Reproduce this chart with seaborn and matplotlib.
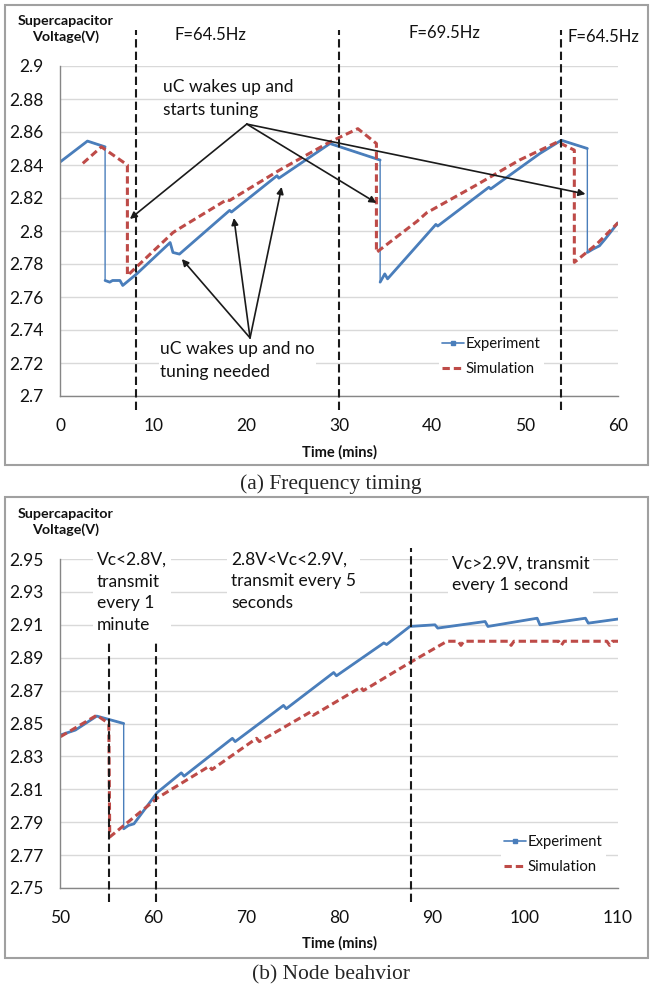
import numpy as np
import matplotlib.pyplot as plt
import seaborn as sns
from matplotlib.lines import Line2D
from matplotlib.patches import Rectangle

# ---- panel (a): frequency timing ----
exp_a_t = [0, 2.9, 4.8, 4.8, 5.3, 5.6, 6.4, 6.7, 8.2, 11.8, 12.1, 12.8, 18.2, 18.4,
           23.3, 23.5, 29.0, 34.4, 34.4, 34.9, 35.2, 40.4, 40.6, 46.1, 46.3, 51.6,
           53.9, 56.7, 56.7, 57.3, 58.0, 58.6, 60.0]
exp_a_v = [2.842, 2.8545, 2.851, 2.770, 2.769, 2.770, 2.770, 2.767, 2.774, 2.793, 2.787,
           2.786, 2.8125, 2.8115, 2.8335, 2.832, 2.853, 2.843, 2.769, 2.774, 2.771, 2.804,
           2.803, 2.8265, 2.8255, 2.847, 2.855, 2.850, 2.787, 2.789, 2.791, 2.795, 2.805]
sim_a_t = [2.4, 4.4, 7.2, 7.2, 12.1, 12.5, 17.9, 18.2, 23.6, 29.0, 32.0, 34.0, 34.0,
           38.4, 39.4, 44.8, 49.4, 53.5, 55.3, 55.3, 57.7, 60.0]
sim_a_v = [2.841, 2.851, 2.840, 2.773, 2.799, 2.8005, 2.819, 2.8185, 2.837, 2.854, 2.862,
           2.853, 2.787, 2.806, 2.811, 2.828, 2.843, 2.854, 2.849, 2.781, 2.792, 2.805]
vlines_a = [8.1, 30.0, 53.9]
yticks_a = [2.7, 2.72, 2.74, 2.76, 2.78, 2.8, 2.82, 2.84, 2.86, 2.88, 2.9]
ylabels_a = ['2.7', '2.72', '2.74', '2.76', '2.78', '2.8', '2.82', '2.84', '2.86', '2.88', '2.9']
xticks_a = [0, 10, 20, 30, 40, 50, 60]
freq_labels = ['F=64.5Hz', 'F=69.5Hz', 'F=64.5Hz']

# ---- panel (b): node behaviour ----
exp_b_t = [50, 51.6, 53.9, 56.8, 56.8, 57.3, 57.9, 60.4, 63.0, 63.3, 68.5, 68.8, 74.0,
           74.3, 79.4, 79.7, 84.8, 85.1, 87.6, 90.3, 90.6, 95.7, 96.0, 101.3, 101.6,
           106.5, 106.8, 110]
exp_b_v = [2.843, 2.846, 2.8545, 2.850, 2.786, 2.788, 2.789, 2.808, 2.820, 2.818, 2.841,
           2.839, 2.861, 2.859, 2.881, 2.879, 2.899, 2.898, 2.909, 2.910, 2.908, 2.912,
           2.909, 2.914, 2.910, 2.914, 2.911, 2.9135]
sim_b_t = [50, 53.9, 55.2, 55.3, 60.5, 66.0, 66.3, 71.1, 71.4, 76.9, 77.2, 82.3, 82.6,
           87.6, 91.6, 92.8, 93.1, 93.4, 98.2, 98.5, 98.8, 103.6, 103.9, 104.2, 108.8,
           109.1, 109.4, 110]
sim_b_v = [2.842, 2.855, 2.850, 2.781, 2.805, 2.824, 2.822, 2.841, 2.839, 2.857, 2.855,
           2.872, 2.870, 2.887, 2.900, 2.900, 2.8975, 2.900, 2.900, 2.8975, 2.900, 2.900,
           2.8975, 2.900, 2.900, 2.8975, 2.900, 2.900]
vlines_b = [55.2, 60.3, 87.7]
yticks_b = [2.75, 2.77, 2.79, 2.81, 2.83, 2.85, 2.87, 2.89, 2.91, 2.93, 2.95]
ylabels_b = ['2.75', '2.77', '2.79', '2.81', '2.83', '2.85', '2.87', '2.89', '2.91', '2.93', '2.95']
xticks_b = [50, 60, 70, 80, 90, 100, 110]

BLUE = '#4a7ebb'
RED = '#be4b48'
GRID = '#d9d9d9'
SPINE = '#868686'
FRAME = '#a0a0a0'
INK = '#111111'

sns.set_theme(style="whitegrid")
plt.rcParams['font.family'] = ['Lato', 'DejaVu Sans']

fig = plt.figure(figsize=(6.5, 9.9), dpi=100)
W, H = 650, 990
ax_a = fig.add_axes([60.5 / W, 1 - 396 / H, 557.5 / W, 330 / H])
ax_b = fig.add_axes([60.5 / W, 1 - 888 / H, 557.5 / W, 329 / H])


def draw_experiment(ax, t, v):
    t = np.asarray(t)
    v = np.asarray(v)
    # thin line everywhere (the vertical drops stay thin), thick on the ramps
    sns.lineplot(x=t, y=v, ax=ax, color=BLUE, linewidth=1, estimator=None, sort=False)
    cuts = np.where(np.diff(t) == 0)[0] + 1
    for tt, vv in zip(np.split(t, cuts), np.split(v, cuts)):
        sns.lineplot(x=tt, y=vv, ax=ax, color=BLUE, linewidth=2, estimator=None, sort=False)


def draw_simulation(ax, t, v):
    sns.lineplot(x=t, y=v, ax=ax, color=RED, linewidth=2.2, estimator=None, sort=False,
                 linestyle=(0, (2.4, 1.3)))


def style_axes(ax, xlim, xticks, ylim, yticks, ylabels):
    ax.set_xlim(xlim)
    ax.set_ylim(ylim)
    ax.set_xticks(xticks)
    ax.set_xticklabels([str(x) for x in xticks])
    ax.set_yticks(yticks)
    ax.set_yticklabels(ylabels)
    ax.grid(axis='x', visible=False)
    ax.grid(axis='y', color=GRID, linewidth=1)
    ax.set_facecolor('none')
    for s in ['top', 'right']:
        ax.spines[s].set_visible(False)
    for s in ['left', 'bottom']:
        ax.spines[s].set_color(SPINE)
        ax.spines[s].set_linewidth(1)
    ax.tick_params(axis='both', direction='out', length=5, width=1, color=SPINE,
                   labelsize=12.5, labelcolor=INK)
    ax.tick_params(axis='x', pad=11)
    ax.tick_params(axis='y', pad=7)
    ax.set_xlabel('')
    ax.set_ylabel('')


def legend(ax, anchor):
    handles = [Line2D([], [], color=BLUE, lw=1.2, marker='s', markersize=2.5),
               Line2D([], [], color=RED, lw=2.2, linestyle=(0, (2.4, 1.3)))]
    leg = ax.legend(handles, ['Experiment', 'Simulation'], loc='lower left',
                    bbox_to_anchor=anchor, frameon=True, facecolor='white',
                    edgecolor='none', framealpha=1, fontsize=10.7, handlelength=1.45,
                    handletextpad=0.1, labelspacing=0.75, borderpad=0.25,
                    borderaxespad=0.5)
    for txt in leg.get_texts():
        txt.set_color(INK)
    leg.set_zorder(5)


# ---- panel (a) ----
draw_experiment(ax_a, exp_a_t, exp_a_v)
draw_simulation(ax_a, sim_a_t, sim_a_v)
style_axes(ax_a, (0, 60), xticks_a, (2.7, 2.9), yticks_a, ylabels_a)
ax_a.vlines(vlines_a, 2.6915, 2.9218, colors='k', linestyles=(0, (4, 2)),
            linewidth=1.5, clip_on=False, zorder=4)
for x, y, s in zip([12.3, 37.4, 54.6], [2.9188, 2.920, 2.9176], freq_labels):
    ax_a.text(x, y, s, fontsize=12, ha='left', va='center', color=INK)

ax_a.text(11.0, 2.8803, 'uC wakes up and\nstarts tuning', fontsize=12.5, ha='left',
          va='center', linespacing=1.5, color=INK)
for tx, ty in [(7.47, 2.8073), (34.0, 2.817), (56.5, 2.8224)]:
    ax_a.annotate('', xy=(tx, ty), xytext=(20.05, 2.8648),
                  arrowprops=dict(arrowstyle='-|>', color='k', lw=1.2,
                                  mutation_scale=10, shrinkA=0, shrinkB=0))
ax_a.text(10.7, 2.7215, 'uC wakes up and no\ntuning needed', fontsize=12.5, ha='left',
          va='center', linespacing=1.5, color=INK,
          bbox=dict(facecolor='white', edgecolor='none', pad=1))
for tx, ty in [(13.06, 2.783), (18.66, 2.8079), (23.8, 2.8267)]:
    ax_a.annotate('', xy=(tx, ty), xytext=(20.4, 2.7352),
                  arrowprops=dict(arrowstyle='-|>', color='k', lw=1.2,
                                  mutation_scale=10, shrinkA=0, shrinkB=0))
legend(ax_a, (0.665, 0.027))

# ---- panel (b) ----
draw_experiment(ax_b, exp_b_t, exp_b_v)
draw_simulation(ax_b, sim_b_t, sim_b_v)
style_axes(ax_b, (50, 110), xticks_b, (2.75, 2.95), yticks_b, ylabels_b)
ax_b.vlines(vlines_b[:2], 2.7415, 2.899, colors='k', linestyles=(0, (4, 2)),
            linewidth=1.5, clip_on=False, zorder=4)
ax_b.vlines(vlines_b[2:], 2.7415, 2.9567, colors='k', linestyles=(0, (4, 2)),
            linewidth=1.5, clip_on=False, zorder=4)
box = dict(facecolor='white', edgecolor='none', pad=3)
ax_b.text(53.9, 2.9296, 'Vc<2.8V,\ntransmit\nevery 1\nminute', fontsize=12.5, ha='left',
          va='center', linespacing=1.45, color=INK, bbox=box)
ax_b.text(68.35, 2.9365, '2.8V<Vc<2.9V,\ntransmit every 5\nseconds', fontsize=12.5,
          ha='left', va='center', linespacing=1.45, color=INK, bbox=box)
ax_b.text(92.1, 2.9406, 'Vc>2.9V, transmit\nevery 1 second', fontsize=12.5, ha='left',
          va='center', linespacing=1.45, color=INK, bbox=box)
legend(ax_b, (0.776, 0.009))

# ---- axis titles, captions, frames ----
for top in [29, 522]:
    fig.text(66 / W, 1 - top / H, 'Supercapacitor\nVoltage(V)', fontsize=10.3,
             fontweight='bold', ha='center', va='center', linespacing=1.3, color=INK)
for y in [452, 943]:
    fig.text(340 / W, 1 - y / H, 'Time (mins)', fontsize=10.5, fontweight='bold',
             ha='center', va='center', color=INK)
fig.text(331 / W, 1 - 484 / H, '(a) Frequency timing', fontsize=15.5,
         family='Liberation Serif', ha='center', va='center')
fig.text(331 / W, 1 - 975 / H, '(b) Node beahvior', fontsize=15.5,
         family='Liberation Serif', ha='center', va='center')
for y0, y1 in [(5, 465), (497, 958)]:
    fig.patches.append(Rectangle((5 / W, 1 - y1 / H), 643 / W, (y1 - y0) / H,
                                 transform=fig.transFigure, fill=False,
                                 edgecolor=FRAME, linewidth=1.5))

fig.savefig('out.png', dpi=100)
